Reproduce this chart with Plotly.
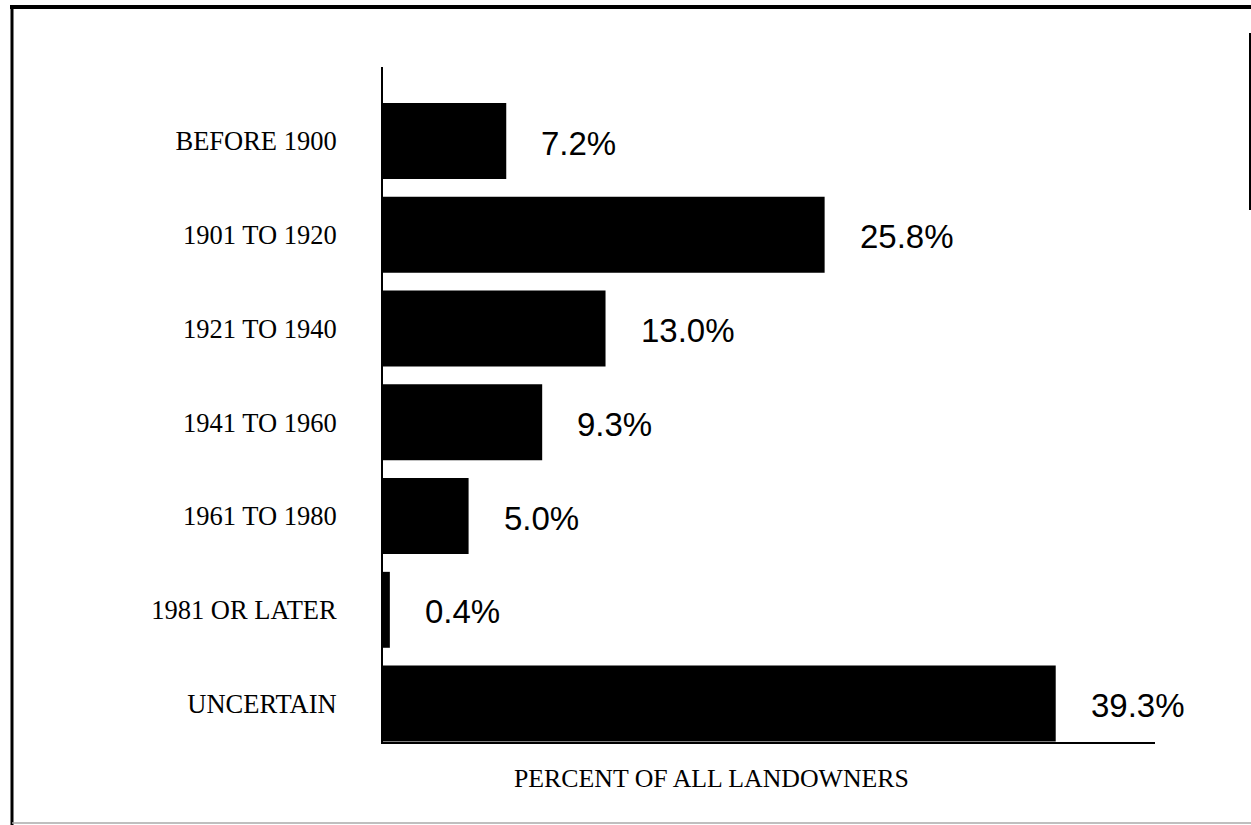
import plotly.graph_objects as go

# Year of land acquisition, share of all landowners
categories = ["BEFORE 1900", "1901 TO 1920", "1921 TO 1940", "1941 TO 1960",
              "1961 TO 1980", "1981 OR LATER", "UNCERTAIN"]
percents = [7.2, 25.8, 13.0, 9.3, 5.0, 0.4, 39.3]
x_title = "PERCENT OF ALL LANDOWNERS"

W, H = 1251, 825
L, R, T, B = 383, 96, 67, 83
PW, PH = W - L - R, H - T - B


def px_x(px):
    return (px - L) / PW


def px_y(py):
    return (H - B - py) / PH


fig = go.Figure(go.Bar(
    x=percents,
    y=categories,
    orientation="h",
    marker=dict(color="black", line=dict(width=0)),
    width=0.81,
    hoverinfo="skip",
))

annotations = [
    dict(x=v, y=c, xref="x", yref="y", text=f"{v:.1f}%", showarrow=False,
         xanchor="left", yanchor="middle", xshift=33, yshift=-2,
         font=dict(family="Liberation Sans, Arial, sans-serif", size=33,
                   color="black"))
    for c, v in zip(categories, percents)
]
annotations.append(dict(
    x=px_x(711), y=0, xref="paper", yref="paper", yshift=-36,
    text=x_title, showarrow=False, xanchor="center", yanchor="middle",
    font=dict(family="Liberation Serif, Times New Roman, serif", size=25.8,
              color="black"),
))

# page frame
shapes = [
    dict(type="line", xref="paper", yref="paper",
         x0=px_x(10), x1=px_x(1251), y0=px_y(7), y1=px_y(7),
         line=dict(color="black", width=4)),
    dict(type="line", xref="paper", yref="paper",
         x0=px_x(12), x1=px_x(12), y0=px_y(6), y1=px_y(825),
         line=dict(color="black", width=3)),
    dict(type="line", xref="paper", yref="paper",
         x0=px_x(12), x1=px_x(1251), y0=px_y(823), y1=px_y(823),
         line=dict(color="#aaaaaa", width=1.5)),
    dict(type="line", xref="paper", yref="paper",
         x0=px_x(1250), x1=px_x(1250), y0=px_y(33), y1=px_y(210),
         line=dict(color="black", width=2)),
]

fig.update_layout(
    width=W, height=H,
    margin=dict(l=L, r=R, t=T, b=B, autoexpand=False),
    paper_bgcolor="white", plot_bgcolor="white",
    showlegend=False,
    annotations=annotations,
    shapes=shapes,
    xaxis=dict(range=[0, 45.1], showgrid=False, zeroline=False,
               showticklabels=False, ticks="", showline=True,
               linecolor="black", linewidth=2),
    yaxis=dict(categoryorder="array", categoryarray=categories,
               range=[6.41, -0.79], showgrid=False, zeroline=False,
               ticks="", showline=True, linecolor="black", linewidth=2,
               ticklabelstandoff=39,
               tickfont=dict(family="Liberation Serif, Times New Roman, serif",
                             size=26.5, color="black")),
)

fig.write_html("out.html")
